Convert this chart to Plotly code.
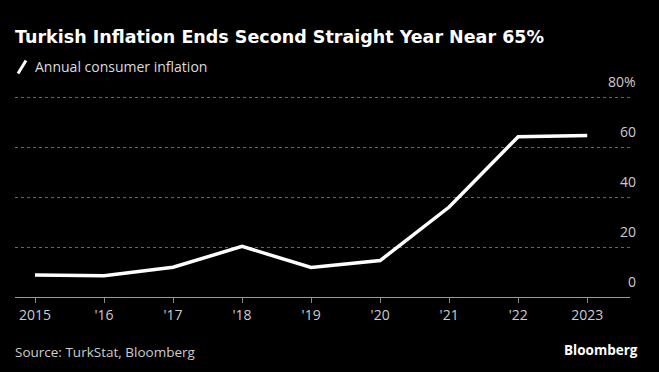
import plotly.graph_objects as go

years = [2015, 2016, 2017, 2018, 2019, 2020, 2021, 2022, 2023]
inflation = [8.81, 8.53, 11.92, 20.30, 11.84, 14.60, 36.08, 64.27, 64.77]
x_tick_labels = ["2015", "'16", "'17", "'18", "'19", "'20", "'21", "'22", "2023"]
y_tick_vals = [0, 20, 40, 60, 80]
y_tick_labels = ["0", "20", "40", "60", "80%"]

W, H = 659, 372
ml, mr, mt, mb = 15, 29, 84.5, 75
pw = W - ml - mr
ph = H - mt - mb

def px_x(px):
    return (px - ml) / pw

def px_y(py):
    return (H - mb - py) / ph

fig = go.Figure()
fig.add_trace(go.Scatter(
    x=years, y=inflation, mode="lines",
    line=dict(color="white", width=3.5),
    hoverinfo="skip", showlegend=False,
))

annotations = []
for v, t in zip(y_tick_vals, y_tick_labels):
    annotations.append(dict(
        x=px_x(638), xref="paper", y=v, yref="y",
        text=t, showarrow=False, xanchor="right", yanchor="bottom",
        yshift=4, font=dict(family="Open Sans", size=14, color="#cccccc"),
    ))

annotations += [
    dict(x=px_x(13), xref="paper", y=px_y(36), yref="paper",
         text="<b>Turkish Inflation Ends Second Straight Year Near 65%</b>",
         showarrow=False, xanchor="left", yanchor="middle",
         font=dict(family="DejaVu Sans", size=17.5, color="white")),
    dict(x=px_x(33), xref="paper", y=px_y(66), yref="paper",
         text="Annual consumer inflation",
         showarrow=False, xanchor="left", yanchor="middle",
         font=dict(family="Open Sans", size=14, color="#dddddd")),
    dict(x=px_x(13), xref="paper", y=px_y(352), yref="paper",
         text="Source: TurkStat, Bloomberg",
         showarrow=False, xanchor="left", yanchor="middle",
         font=dict(family="Open Sans", size=13.5, color="#cccccc")),
    dict(x=px_x(640), xref="paper", y=px_y(350), yref="paper",
         text="<b>Bloomberg</b>",
         showarrow=False, xanchor="right", yanchor="middle",
         font=dict(family="Open Sans", size=13.5, color="white")),
]

shapes = [
    dict(type="line", xref="paper", yref="paper",
         x0=px_x(18), y0=px_y(73), x1=px_x(26), y1=px_y(60),
         line=dict(color="white", width=3)),
]

fig.update_layout(
    width=W, height=H,
    margin=dict(l=ml, r=mr, t=mt, b=mb),
    paper_bgcolor="black", plot_bgcolor="black",
    showlegend=False,
    annotations=annotations,
    shapes=shapes,
    xaxis=dict(
        range=[2014.71, 2023.62],
        tickvals=years, ticktext=x_tick_labels,
        ticks="outside", ticklen=5, tickcolor="#888888", tickwidth=1,
        showgrid=False, zeroline=False,
        showline=True, linecolor="#999999", linewidth=1,
        tickfont=dict(family="Open Sans", size=14, color="#cccccc"),
        fixedrange=True,
    ),
    yaxis=dict(
        range=[0, 85],
        tickvals=y_tick_vals, showticklabels=False,
        showgrid=True, gridcolor="#666666", griddash="dot", gridwidth=1,
        zeroline=False, showline=False,
        fixedrange=True,
    ),
)

fig.write_html(
    "out.html",
    config={"displayModeBar": False},
    post_script="document.body.style.margin='0';document.body.style.overflow='hidden';",
)
